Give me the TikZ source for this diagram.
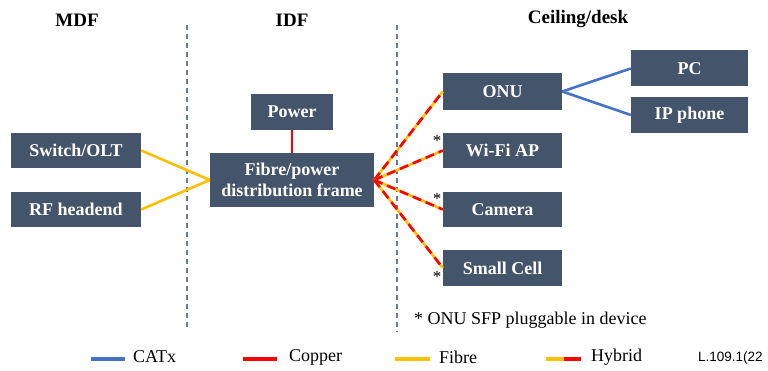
\documentclass[tikz,border=0pt]{standalone}
\usepackage{fontspec}
\setmainfont{Liberation Serif}
\newfontfamily\labsans{Liberation Sans}
\definecolor{boxc}{HTML}{44546A}
\definecolor{yelc}{HTML}{FFC000}
\definecolor{redc}{HTML}{FF0000}
\definecolor{bluc}{HTML}{4472C4}
\definecolor{dashc}{HTML}{6A7A8E}
\tikzset{
  box/.style={fill=boxc, text=white, font=\fontsize{18}{21}\selectfont\bfseries, inner sep=0pt, align=center},
  title/.style={font=\fontsize{19}{22}\selectfont\bfseries},
  fibre/.style={draw=yelc, line width=2.6pt},
  copper/.style={draw=redc, line width=2.6pt},
  catx/.style={draw=bluc, line width=2.6pt},
  hybrid/.style={draw=redc, line width=2.6pt, dash pattern=on 9pt off 5pt,
     preaction={draw=yelc, line width=2.6pt, solid}},
  divider/.style={draw=dashc, line width=1.2pt, dash pattern=on 5pt off 4pt},
  legtext/.style={font=\fontsize{18}{21}\selectfont, anchor=west, inner sep=0pt},
  star/.style={font=\fontsize{17}{20}\selectfont, inner sep=0pt}
}
\begin{document}
\begin{tikzpicture}[x=1pt,y=-1pt]
\useasboundingbox[fill=white] (0,0) rectangle (768,371);
% titles
\node[title] (tmdf) at (77,20) {MDF};
\node[title] (tidf) at (292,20) {IDF};
\node[title] (tceil) at (578,19) {Ceiling/desk};
% dividers
\coordinate (d1t) at (187,25); \coordinate (d1b) at (187,330);
\coordinate (d2t) at (397,25); \coordinate (d2b) at (397,332);
\draw[divider] (d1t) -- (d1b);
\draw[divider] (d2t) -- (d2b);
% boxes
\node[box, minimum width=130pt, minimum height=35pt] (sw) at (76,150.5) {Switch/OLT};
\node[box, minimum width=130pt, minimum height=35pt] (rf) at (76,209.5) {RF headend};
\node[box, minimum width=82pt, minimum height=36pt] (pw) at (292,112) {Power};
\node[box, minimum width=164pt, minimum height=54pt] (fr) at (292,180) {Fibre/power\\distribution frame};
\node[box, minimum width=119pt, minimum height=37pt] (onu) at (502.5,91.5) {ONU};
\node[box, minimum width=119pt, minimum height=35pt] (wifi) at (502.5,150.5) {Wi-Fi AP};
\node[box, minimum width=119pt, minimum height=35pt] (cam) at (502.5,209.5) {Camera};
\node[box, minimum width=119pt, minimum height=36pt] (sc) at (502.5,268) {Small Cell};
\node[box, minimum width=117pt, minimum height=36pt] (pc) at (689.5,68.5) {PC};
\node[box, minimum width=117pt, minimum height=36pt] (ip) at (689.5,115) {IP phone};
% connectors
\draw[fibre] (sw.east) -- (fr.west);
\draw[fibre] (rf.east) -- (fr.west);
\draw[copper] (pw.south) -- (fr.north);
\draw[hybrid] (fr.east) -- (onu.west);
\draw[hybrid] (fr.east) -- (wifi.west);
\draw[hybrid] (fr.east) -- (cam.west);
\draw[hybrid] (fr.east) -- (sc.west);
\draw[catx] (onu.east) -- (pc.west);
\draw[catx] (onu.east) -- (ip.west);
% asterisks
\node[star] (s1) at (437,141) {*};
\node[star] (s2) at (437,199) {*};
\node[star] (s3) at (437,277) {*};
% footnote
\node[legtext, anchor=base west] (fn) at (414,324) {* ONU SFP pluggable in device};
% legend
\coordinate (l1a) at (91,359); \coordinate (l1b) at (125,359);
\draw[catx, line width=3.2pt] (l1a) -- (l1b);
\node[legtext] (lc) at (133,357) {CATx};
\coordinate (l2a) at (243,359); \coordinate (l2b) at (277,359);
\draw[copper, line width=3.2pt] (l2a) -- (l2b);
\node[legtext] (lcu) at (289,357) {Copper};
\coordinate (l3a) at (395,359); \coordinate (l3b) at (430,359);
\draw[fibre, line width=3.2pt] (l3a) -- (l3b);
\node[legtext] (lf) at (439,357) {Fibre};
\coordinate (l4a) at (546,359); \coordinate (l4m) at (563.5,359); \coordinate (l4b) at (581,359);
\draw[fibre, line width=3.2pt] (l4a) -- (l4m);
\draw[copper, line width=3.2pt] (l4m) -- (l4b);
\node[legtext] (lh) at (591,357) {Hybrid};
\node[anchor=west, inner sep=0pt, font=\labsans\fontsize{13.5}{16}\selectfont] (ref) at (698,358) {L.109.1(22};
\end{tikzpicture}
\end{document}
